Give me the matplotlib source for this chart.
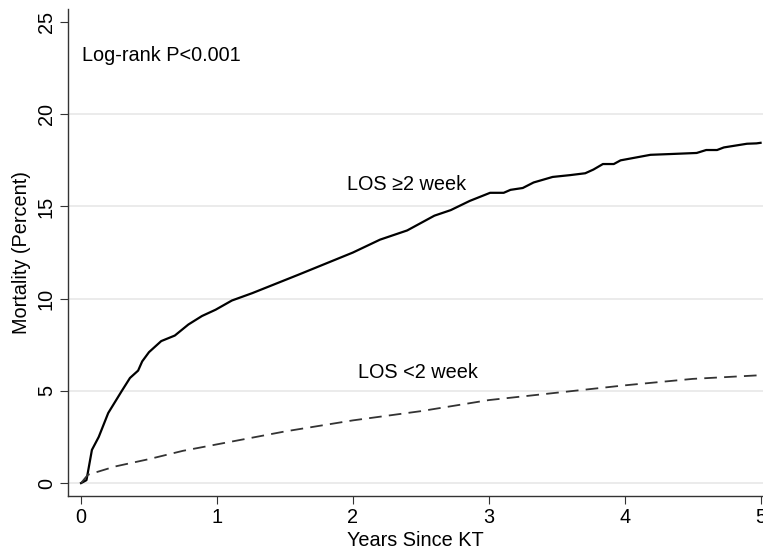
import matplotlib
matplotlib.use("Agg")
import matplotlib.pyplot as plt

plt.rcParams['font.family'] = ['Liberation Sans', 'DejaVu Sans']

# Data (years since KT, cumulative mortality %)
years_long = [0, 0.04, 0.08, 0.13, 0.20, 0.30, 0.36, 0.42, 0.45, 0.50, 0.59, 0.69, 0.79, 0.89,
              0.99, 1.11, 1.26, 1.43, 1.6, 1.8, 2.0, 2.2, 2.4, 2.6, 2.72, 2.86, 3.01, 3.11,
              3.16, 3.25, 3.33, 3.47, 3.60, 3.71, 3.77, 3.84, 3.92, 3.97, 4.19, 4.33, 4.53,
              4.60, 4.68, 4.73, 4.90, 4.97, 5.0]
mort_long = [0, 0.16, 1.8, 2.5, 3.8, 5.0, 5.7, 6.1, 6.6, 7.1, 7.7, 8.0, 8.6, 9.06,
             9.4, 9.9, 10.3, 10.8, 11.3, 11.9, 12.5, 13.2, 13.7, 14.5, 14.8, 15.3, 15.74, 15.74,
             15.9, 16.0, 16.3, 16.6, 16.7, 16.8, 17.0, 17.3, 17.3, 17.5, 17.8, 17.84, 17.9,
             18.06, 18.06, 18.2, 18.4, 18.42, 18.45]

years_short = [0, 0.05, 0.25, 0.5, 0.75, 1.0, 1.5, 2.0, 2.5, 3.0, 3.5, 4.0, 4.5, 5.0]
mort_short = [0, 0.45, 0.9, 1.3, 1.75, 2.1, 2.8, 3.4, 3.9, 4.5, 4.9, 5.3, 5.65, 5.85]

yticks = [0, 5, 10, 15, 20, 25]
xticks = [0, 1, 2, 3, 4, 5]

fig = plt.figure(figsize=(7.63, 5.53), dpi=100)
ax = fig.add_axes([68/763, 1-496/553, 1-68/763, (496-9.3)/553])

for yt in yticks[:-1]:
    ax.axhline(yt, color='#e8e8e8', lw=1.2, zorder=0)

ax.plot(years_long, mort_long, color='black', lw=1.6)
ax.plot(years_short, mort_short, color='#333333', lw=1.3, linestyle=(0, (7, 4)))

ax.set_xlim(-0.096, 5.018)
ax.set_ylim(-0.7, 25.69)
ax.set_xticks(xticks)
ax.set_yticks(yticks)
ax.tick_params(axis='both', direction='out', length=5.8, width=0.8, color='#333333',
               labelsize=14.3, pad=3)
for lab in ax.get_yticklabels():
    lab.set_rotation(90)
    lab.set_va('center')

for side in ['top', 'right']:
    ax.spines[side].set_visible(False)
for side in ['left', 'bottom']:
    ax.spines[side].set_color('#333333')
    ax.spines[side].set_linewidth(1.0)

ax.set_xlabel('Years Since KT', fontsize=14.3, labelpad=3)
ax.set_ylabel('Mortality (Percent)', fontsize=14.3, labelpad=4)

ax.text(0.01, 23.2, 'Log-rank P<0.001', fontsize=14.3, va='center', ha='left')
ax.text(1.96, 16.2, 'LOS \u22652 week', fontsize=14.3, va='center', ha='left')
ax.text(2.04, 6.0, 'LOS <2 week', fontsize=14.3, va='center', ha='left')

fig.savefig('out.png', dpi=100)
